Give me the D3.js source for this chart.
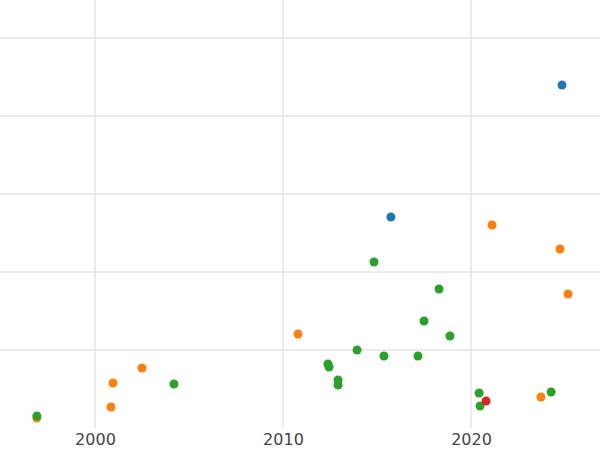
<!DOCTYPE html><html><head><script src="https://cdn.jsdelivr.net/npm/d3@7"></script>
<style>body{margin:0;background:#fff}</style></head><body><svg id="c" width="600" height="450"></svg><script>
const xTicks=[2000,2010,2020];
const yGrid=[1,2,3,4,5];
const blueX=[2024.84,2015.74], blueY=[4.397,2.705];
const orangeX=[1996.91,2000.85,2000.96,2002.5,2010.8,2021.12,2024.73,2025.16,2023.72];
const orangeY=[0.128,0.269,0.577,0.769,1.205,2.603,2.295,1.718,0.397];
const greenX=[1996.91,2004.2,2012.39,2012.45,2012.93,2012.93,2013.94,2014.84,2015.37,2017.18,2017.5,2018.3,2018.88,2020.43,2020.48,2024.26];
const greenY=[0.154,0.564,0.821,0.782,0.615,0.551,1.0,2.128,0.923,0.923,1.372,1.782,1.179,0.449,0.282,0.462];
const redX=[2020.8], redY=[0.346];
const svg=d3.select("#c");
const x=d3.scaleLinear().domain([1994.95,2026.86]).range([0,600]);
const y=d3.scaleLinear().domain([0,5.487]).range([428,0]);
svg.append("g").selectAll("line").data(xTicks).join("line").attr("x1",d=>x(d)).attr("x2",d=>x(d)).attr("y1",0).attr("y2",428).attr("stroke","#e5e5e5").attr("stroke-width",1.5);
svg.append("g").selectAll("line").data(yGrid).join("line").attr("x1",0).attr("x2",600).attr("y1",d=>y(d)).attr("y2",d=>y(d)).attr("stroke","#e5e5e5").attr("stroke-width",1.5);
const ax=svg.append("g").attr("transform","translate(0,428)").call(d3.axisBottom(x).tickValues(xTicks).tickFormat(d3.format("d")).tickSize(0).tickPadding(6));
ax.select(".domain").remove();
ax.selectAll("text").attr("font-family","DejaVu Sans").attr("font-size",16).attr("fill","#444");
function pts(xs,ys,c){svg.append("g").selectAll("circle").data(xs).join("circle").attr("cx",d=>x(d)).attr("cy",(d,i)=>y(ys[i])).attr("r",4.5).attr("fill",c);}
pts(blueX,blueY,"#1f77b4");pts(orangeX,orangeY,"#ff7f0e");pts(greenX,greenY,"#2ca02c");pts(redX,redY,"#d62728");
</script></body></html>
